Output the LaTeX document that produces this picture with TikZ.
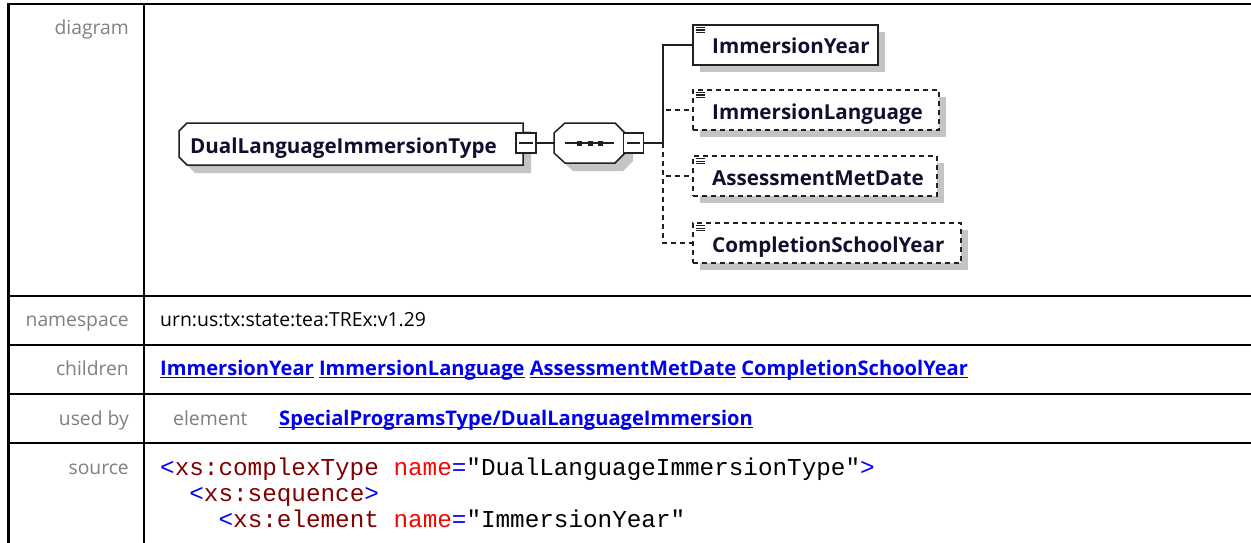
\documentclass[tikz,border=0pt]{standalone}
\usepackage{fontspec}
\setmainfont{Open Sans}
\newfontfamily\codefont{Liberation Mono}
\usetikzlibrary{shadows}
\definecolor{lblgray}{HTML}{808080}
\definecolor{linkblue}{HTML}{0000EE}
\definecolor{xblue}{HTML}{0000FF}
\definecolor{xdark}{HTML}{800000}
\definecolor{xred}{HTML}{FF0000}
\definecolor{shadowgray}{HTML}{C4C4C4}
\definecolor{dline}{HTML}{202020}
\definecolor{dtextc}{HTML}{10102E}
\newsavebox{\ulbox}
\newcommand{\ulink}[1]{\sbox{\ulbox}{#1}\rlap{\rule[-3.4pt]{\wd\ulbox}{1.6pt}}\usebox{\ulbox}}
\begin{document}
\begin{tikzpicture}[x=1pt,y=-1pt,
  tbl/.style={line width=2.5pt, black},
  lbl/.style={anchor=base east, text=lblgray, inner sep=0pt, font=\fontsize{19.3}{22}\selectfont},
  body/.style={anchor=base west, inner sep=0pt, font=\fontsize{19.4}{22}\selectfont},
  lnk/.style={anchor=base west, inner sep=0pt, text=linkblue, font=\fontsize{20.1}{22}\selectfont\bfseries},
  code/.style={anchor=base west, inner sep=0pt, font=\fontsize{24.3}{28}\codefont},
  dl/.style={line width=1.5pt, draw=dline},
  dsh/.style={dash pattern=on 5pt off 4pt},
  dtext/.style={anchor=base west, inner sep=0pt, text=dtextc, font=\fontsize{20.6}{22}\selectfont\bfseries},
  child/.style={draw=dline, line width=1.5pt, fill=white, inner sep=0pt, minimum height=40pt,
    drop shadow={shadow xshift=7pt, shadow yshift=-7pt, fill=shadowgray, opacity=1}},
  minusbox/.style={draw=dline, line width=1.5pt, fill=white, inner sep=0pt, minimum width=20pt, minimum height=20pt},
  icon/.style={line width=1.1pt, draw=dline}
]
\useasboundingbox (0,0) rectangle (1251,543);
\fill[white] (0,0) rectangle (1251,543);

% table grid
\draw[tbl] (8.5,4) -- (1251,4);
\draw[tbl] (8.5,296) -- (1251,296);
\draw[tbl] (8.5,345) -- (1251,345);
\draw[tbl] (8.5,394) -- (1251,394);
\draw[tbl] (8.5,443) -- (1251,443);
\draw[tbl] (8.5,2.75) -- (8.5,543);
\draw[tbl] (144,2.75) -- (144,543);

% row labels
\node[lbl] (ldiag) at (129,35) {diagram};
\node[lbl] (lns) at (129,326) {namespace};
\node[lbl] (lch) at (129,375) {children};
\node[lbl] (lub) at (129,425) {used by};
\node[lbl] (lsrc) at (129,474) {source};

% row contents
\node[body] (ns) at (160,326) {urn:us:tx:state:tea:TREx:v1.29};
\node[lnk] (ch) at (160,375) {\ulink{ImmersionYear} \ulink{ImmersionLanguage} \ulink{AssessmentMetDate} \ulink{CompletionSchoolYear}};
\node[body, text=lblgray] (el) at (173,425) {element};
\node[lnk] (ub) at (279,425) {\ulink{SpecialProgramsType/DualLanguageImmersion}};

\node[code] (src1) at (160,475) {\textcolor{xblue}{<}\textcolor{xdark}{xs:complexType} \textcolor{xred}{name}\textcolor{xblue}{=}"DualLanguageImmersionType"\textcolor{xblue}{>}};
\node[code] (src2) at (189.2,501) {\textcolor{xblue}{<}\textcolor{xdark}{xs:sequence}\textcolor{xblue}{>}};
\node[code] (src3) at (218.4,527) {\textcolor{xblue}{<}\textcolor{xdark}{xs:element} \textcolor{xred}{name}\textcolor{xblue}{=}"ImmersionYear"};

% ---- diagram ----
% main type box
\fill[shadowgray] (195,131) -- (531,131) -- (531,173) -- (195,173) -- (187,165) -- (187,139) -- cycle;
\filldraw[dl, fill=white] (187,123) -- (523,123) -- (523,165) -- (187,165) -- (179,157) -- (179,131) -- cycle;
\node[dtext] (main) at (190,153) {DualLanguageImmersionType};
\node[minusbox] (m1) at (526,143) {};
\draw[dl] (519,143) -- (533,143);

% sequence compositor
\fill[shadowgray] (573,131) -- (623,131) -- (633,141) -- (633,161) -- (623,171) -- (573,171) -- (562,161) -- (562,141) -- cycle;
\filldraw[dl, fill=white] (565,123) -- (615,123) -- (625,133) -- (625,153) -- (615,163) -- (565,163) -- (554,153) -- (554,133) -- cycle;
\node[inner sep=0pt, minimum width=71pt, minimum height=40pt] (seq) at (589.5,143) {};
\draw[dl] (565,143) -- (614,143);
\fill[dline] (576.5,140.5) rectangle (581.5,145.5);
\fill[dline] (587.5,140.5) rectangle (592.5,145.5);
\fill[dline] (597.5,140.5) rectangle (602.5,145.5);
\node[minusbox] (m2) at (633.5,143) {};
\draw[dl] (627,143) -- (640,143);
\coordinate (bus) at (663,143);

\draw[dl] (m1.east) -- (seq.west);
\draw[dl] (m2.east) -- (bus);

% children
\node[child, minimum width=185pt] (c1) at (785.5,45) {};
\node[child, dsh, minimum width=246pt] (c2) at (816,110) {};
\node[child, dsh, minimum width=244pt] (c3) at (815,176) {};
\node[child, dsh, minimum width=268pt] (c4) at (827,243) {};

\draw[dl, dsh] (bus) |- (c4.west);
\draw[dl, dsh] (bus) |- (c3.west);
\draw[dl, dsh] (bus) |- (c2.west);
\draw[dl] (bus) |- (c1.west);

\foreach \c in {c1,c2,c3,c4}{
  \draw[icon] ([shift={(4,3)}]\c.north west) -- +(9,0);
  \draw[icon] ([shift={(4,5.8)}]\c.north west) -- +(9,0);
  \draw[icon] ([shift={(4,8.6)}]\c.north west) -- +(9,0);
}

\node[dtext] (t1) at (712,54) {ImmersionYear};
\node[dtext] (t2) at (712,119) {ImmersionLanguage};
\node[dtext] (t3) at (712,185) {AssessmentMetDate};
\node[dtext] (t4) at (712,252) {CompletionSchoolYear};
\end{tikzpicture}
\end{document}
